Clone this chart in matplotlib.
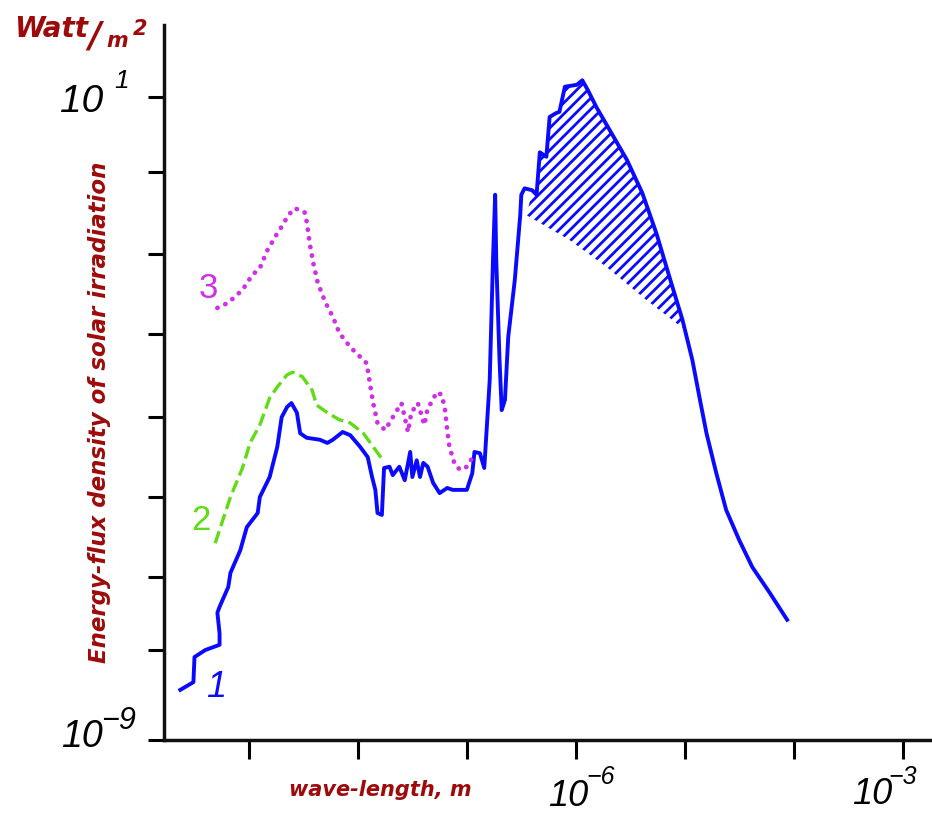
import numpy as np
import matplotlib.pyplot as plt

# all values are log10: wavelength in m, flux density in W/m^2
# curve 1 - solid blue
wl1 = [-9.63, -9.51, -9.50, -9.40, -9.27, -9.27, -9.29, -9.27, -9.19, -9.17,
       -9.08, -9.02, -8.97, -8.92, -8.90, -8.81, -8.74, -8.70, -8.65, -8.61,
       -8.56, -8.53, -8.47, -8.35, -8.28, -8.23, -8.14, -8.07, -7.98, -7.91,
       -7.87, -7.84, -7.82, -7.78, -7.76, -7.71, -7.68, -7.62, -7.57, -7.52,
       -7.50, -7.46, -7.43, -7.40, -7.36, -7.31, -7.25, -7.18, -7.13, -7.00,
       -6.95, -6.93, -6.88, -6.84, -6.79, -6.76, -6.74, -6.73, -6.70, -6.68,
       -6.65, -6.62, -6.56, -6.51, -6.50, -6.47, -6.40, -6.36, -6.33, -6.27,
       -6.24, -6.18, -6.15, -6.10, -5.99, -5.94, -5.89, -5.81, -5.69, -5.53,
       -5.39, -5.26, -5.14, -5.02, -4.93, -4.86, -4.80, -4.71, -4.62, -4.50,
       -4.38, -4.22, -4.06]
fl1 = [-8.22, -8.10, -7.71, -7.60, -7.52, -7.34, -7.02, -6.93, -6.62, -6.40,
       -6.05, -5.69, -5.58, -5.47, -5.22, -4.91, -4.44, -3.98, -3.82, -3.76,
       -3.91, -4.23, -4.30, -4.33, -4.38, -4.33, -4.21, -4.26, -4.44, -4.60,
       -4.91, -5.11, -5.47, -5.50, -4.77, -4.75, -4.88, -4.75, -4.96, -4.52,
       -4.91, -4.65, -4.91, -4.69, -4.75, -5.00, -5.16, -5.08, -5.11, -5.11,
       -4.85, -4.52, -4.54, -4.77, -3.40, -1.53, -0.52, -1.53, -3.09, -3.87,
       -3.71, -2.73, -1.85, -0.84, -0.52, -0.42, -0.45, -0.52, 0.14, 0.07,
       0.69, 0.75, 0.77, 1.16, 1.19, 1.26, 1.11, 0.84, 0.49, 0.02,
       -0.49, -1.12, -1.80, -2.47, -3.09, -3.71, -4.23, -4.85, -5.42, -5.89,
       -6.31, -6.71, -7.13]

# lower edge of the hatched area under the peak of curve 1
wl_hatch = [-6.45, -6.06, -5.72, -5.35, -5.02]
fl_hatch = [-0.84, -1.22, -1.64, -2.16, -2.59]

# curve 2 - dashed green
wl2 = [-9.31, -9.17, -9.06, -8.99, -8.90, -8.81, -8.74, -8.65, -8.60, -8.51,
       -8.42, -8.38, -8.28, -8.17, -8.07, -7.95, -7.86, -7.77]
fl2 = [-5.94, -5.22, -4.77, -4.38, -4.10, -3.68, -3.51, -3.32, -3.28, -3.35,
       -3.56, -3.79, -3.91, -4.02, -4.07, -4.23, -4.44, -4.65]

# curve 3 - dotted magenta
wl3 = [-9.29, -9.19, -9.06, -8.97, -8.90, -8.83, -8.74, -8.69, -8.64, -8.58,
       -8.49, -8.47, -8.44, -8.41, -8.37, -8.30, -8.23, -8.17, -8.07, -7.98,
       -7.92, -7.89, -7.86, -7.82, -7.75, -7.68, -7.60, -7.54, -7.51, -7.45,
       -7.39, -7.36, -7.31, -7.28, -7.23, -7.20, -7.18, -7.16, -7.11, -7.06,
       -7.00, -6.95]
fl3 = [-2.28, -2.20, -2.00, -1.77, -1.66, -1.38, -1.12, -0.99, -0.84, -0.73,
       -0.79, -0.94, -1.30, -1.58, -1.88, -2.19, -2.42, -2.67, -2.89, -3.04,
       -3.14, -3.45, -3.76, -4.07, -4.18, -3.98, -3.76, -4.21, -3.91, -3.76,
       -4.10, -3.84, -3.71, -3.59, -3.63, -3.87, -4.18, -4.44, -4.72, -4.80,
       -4.75, -4.61]

xticks = [-9, -8, -7, -6, -5, -4, -3]
yticks = [1, -0.17, -1.44, -2.69, -3.98, -5.22, -6.47, -7.6, -9]

W, H = 932, 813
def fp(x, y):
    return x / W, 1 - y / H

RED = '#9e0a0a'
BLUE = '#0a0aff'
GREEN = '#5fdc14'
MAG = '#cf2fe6'
NUM = ['Liberation Sans', 'DejaVu Sans']

plt.rcParams['hatch.linewidth'] = 2.0

fig = plt.figure(figsize=(W / 100, H / 100), dpi=100)
ax = fig.add_axes([164 / W, 73 / H, 768 / W, 715 / H])
ax.set_xscale('log')
ax.set_yscale('log')
ax.set_xlim(10**-9.78, 10**-2.73)
ax.set_ylim(1e-9, 10**2.12)

wl1 = np.array(wl1); fl1 = np.array(fl1)
ax.plot(10**wl1, 10**fl1, color=BLUE, lw=2.8, solid_joinstyle='round')
ax.plot(10**np.array(wl2), 10**np.array(fl2), color=GREEN, lw=2.4,
        dashes=(3.8, 1.6))
ax.plot(10**np.array(wl3), 10**np.array(fl3), color=MAG, lw=3.4,
        dashes=(0.05, 1.8), dash_capstyle='round')

# hatched region
m = (wl1 >= wl_hatch[0]) & (wl1 <= wl_hatch[-1])
px = np.concatenate([[wl_hatch[0]], wl1[m], wl_hatch[::-1]])
py = np.concatenate([[fl_hatch[0]], fl1[m], fl_hatch[::-1]])
ax.fill(10**px, 10**py, facecolor='none', edgecolor=BLUE, hatch='///',
        linewidth=0)

for s in ['top', 'right']:
    ax.spines[s].set_visible(False)
for s in ['left', 'bottom']:
    ax.spines[s].set_linewidth(2.5)
    ax.spines[s].set_color('#111111')

ax.set_xticks([10.0**v for v in xticks])
ax.set_xticklabels([])
ax.set_yticks([10.0**v for v in yticks])
ax.set_yticklabels([])
ax.minorticks_off()
ax.tick_params(axis='x', length=14, width=2.2, direction='out')
ax.tick_params(axis='y', length=11.5, width=2.2, direction='out')

# tick labels drawn as text
def power(x, y, base_size, exp, ex_dx, ex_dy, exp_size):
    fig.text(*fp(x, y), '10', fontsize=base_size, style='italic',
             family=NUM, ha='left', va='baseline')
    fig.text(*fp(x + ex_dx, y - ex_dy), exp, fontsize=exp_size,
             style='italic', family=NUM, ha='left', va='baseline')

power(60, 112, 28, '1', 54, 24, 19)
power(61, 747, 27, '\u2212' + '9', 40, 18, 22)
power(548, 806, 26, '\u2212' + '6', 38, 22, 18)
power(852, 804, 26, '\u2212' + '3', 36, 20, 18)

# axis titles
fig.text(*fp(14, 37), 'Watt', color=RED, fontsize=20, weight='bold',
         style='italic', ha='left', va='baseline')
fig.text(*fp(88, 46), '/', color=RED, fontsize=25, weight='bold',
         style='italic', ha='left', va='baseline')
fig.text(*fp(106, 47), 'm', color=RED, fontsize=15, weight='bold',
         style='italic', ha='left', va='baseline')
fig.text(*fp(133, 35), '2', color=RED, fontsize=15, weight='bold',
         style='italic', ha='left', va='baseline')
fig.text(*fp(100, 412), 'Energy-flux density of solar irradiation', color=RED,
         fontsize=16.5, weight='bold', style='italic', rotation=90,
         ha='center', va='center')
fig.text(*fp(380, 790), 'wave-length, m', color=RED, fontsize=15,
         weight='bold', style='italic', ha='center', va='center')

# curve numbers
fig.text(*fp(206, 697), '1', color=BLUE, fontsize=26, style='italic',
         family=NUM, ha='left', va='baseline')
fig.text(*fp(191, 530), '2', color=GREEN, fontsize=25, family=NUM,
         ha='left', va='baseline')
fig.text(*fp(199, 298), '3', color=MAG, fontsize=25, family=NUM,
         ha='left', va='baseline')

fig.savefig('out.png', dpi=100)
